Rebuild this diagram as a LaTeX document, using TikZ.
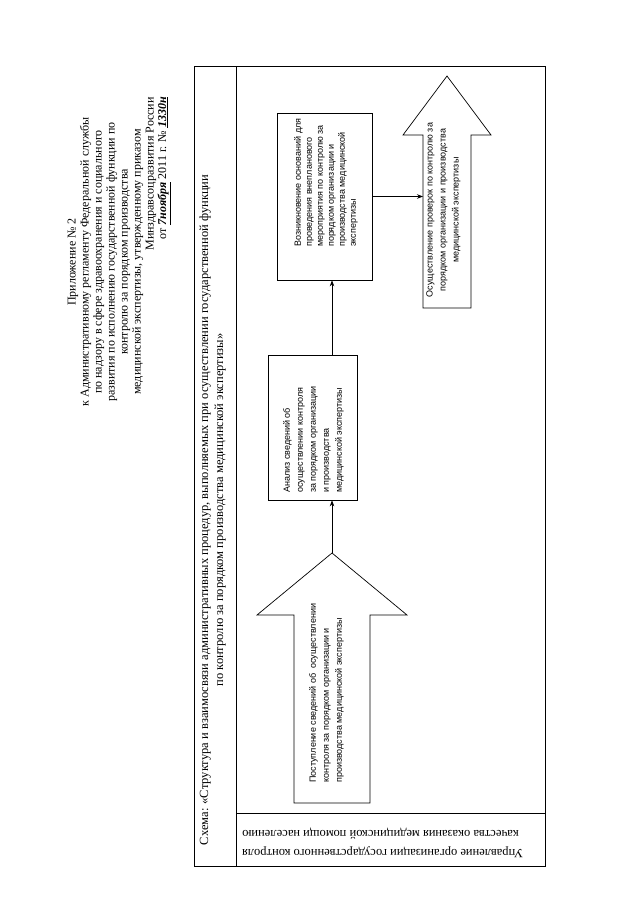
\documentclass[tikz,border=0pt]{standalone}
\usepackage{fontspec}
\setmainfont{Liberation Serif}
\newfontfamily\boxfont{Liberation Sans}
\usetikzlibrary{arrows.meta}
\begin{document}
\begin{tikzpicture}[x=1pt,y=1pt,
  frameline/.style={draw=black, line width=0.8pt},
  bigarrow/.style={draw=black, line width=0.7pt},
  hdr/.style={rotate=90, font=\fontsize{12}{13}\selectfont, align=center, inner sep=0pt},
  ttl/.style={rotate=90, font=\fontsize{12.5}{15}\selectfont, align=center, inner sep=0pt},
  strip/.style={rotate=180, font=\fontsize{12.5}{15}\selectfont, inner sep=0pt},
  btxt/.style={rotate=90, font=\boxfont\fontsize{9}{13}\selectfont, align=left, inner sep=0pt},
  procbox/.style={draw=black, line width=0.7pt, inner sep=0pt},
  conn/.style={line width=0.7pt, -{Stealth[length=6pt,width=4.5pt]}}
]
\useasboundingbox (0,0) rectangle (640,-905);

% header
\node[hdr] (hdr) at (105.5,-262) {Приложение № 2\\
к Административному регламенту Федеральной службы\\
по надзору в сфере здравоохранения и социального\\
развития по исполнению государственной функции по\\
контролю за порядком производства\\
медицинской экспертизы, утвержденному приказом};
\node[hdr, anchor=east] (hdr7) at (151,-97) {Минздравсоцразвития России};
\node[hdr, anchor=east] (hdr8) at (164,-97) {от \underline{\textbf{\textit{7ноября}}} 2011 г. № \underline{\textbf{\textit{1330н}}}};

% frame
\draw[frameline] (194,-66) rectangle (545,-866);
\draw[frameline] (236,-66) -- (236,-866);
\draw[frameline] (236,-813) -- (545,-813);

% title
\node[ttl] (ttl) at (212.5,-510) {Схема: «Структура и взаимосвязи административных процедур, выполняемых при осуществлении государственной функции\\
по контролю за порядком производства медицинской экспертизы»};

% bottom strip
\node[strip, anchor=east] (strip1) at (242,-852) {Управление организации государственного контроля};
\node[strip, anchor=east] (strip2) at (242,-833) {качества оказания медицинской помощи населению};

% left big arrow
\draw[bigarrow] (294,-803) -- (294,-615) -- (257,-615) -- (332,-553) -- (407,-615) -- (370,-615) -- (370,-803) -- cycle;
\coordinate (lapex) at (332,-553);
\node[btxt, anchor=west] (ltxt) at (326.5,-783) {Поступление сведений об\ \ осуществлении\\
контроля за порядком организации и\\
производства медицинской экспертизы};

% right big arrow
\draw[bigarrow] (423,-308) -- (423,-135) -- (403,-135) -- (447,-76) -- (491,-135) -- (471,-135) -- (471,-308) -- cycle;
\coordinate (rin) at (423,-196.5);
\node[btxt, align=center] (rtxt) at (443.5,-210) {Осуществление проверок по контролю за\\
порядком организации и производства\\
медицинской экспертизы};

% boxes
\node[procbox, minimum width=89pt, minimum height=145pt] (an) at (312.5,-427.5) {};
\node[btxt, anchor=west] (antxt) at (313.5,-493) {Анализ сведений об\\
осуществлении контроля\\
за порядком организации\\
и производства\\
медицинской экспертизы};

\node[procbox, minimum width=95pt, minimum height=167pt] (vz) at (324.5,-196.5) {};
\node[btxt, anchor=west, font=\boxfont\fontsize{9}{11}\selectfont] (vztxt) at (326,-247) {Возникновение оснований для\\
проведения внепланового\\
мероприятия по контролю за\\
порядком организации и\\
производства медицинской\\
экспертизы};

% connectors
\draw[conn] (lapex) -- (lapex |- an.south);
\draw[conn] (an.north -| lapex) -- (lapex |- vz.south);
\draw[conn] (vz.east) -- (rin);
\end{tikzpicture}
\end{document}
